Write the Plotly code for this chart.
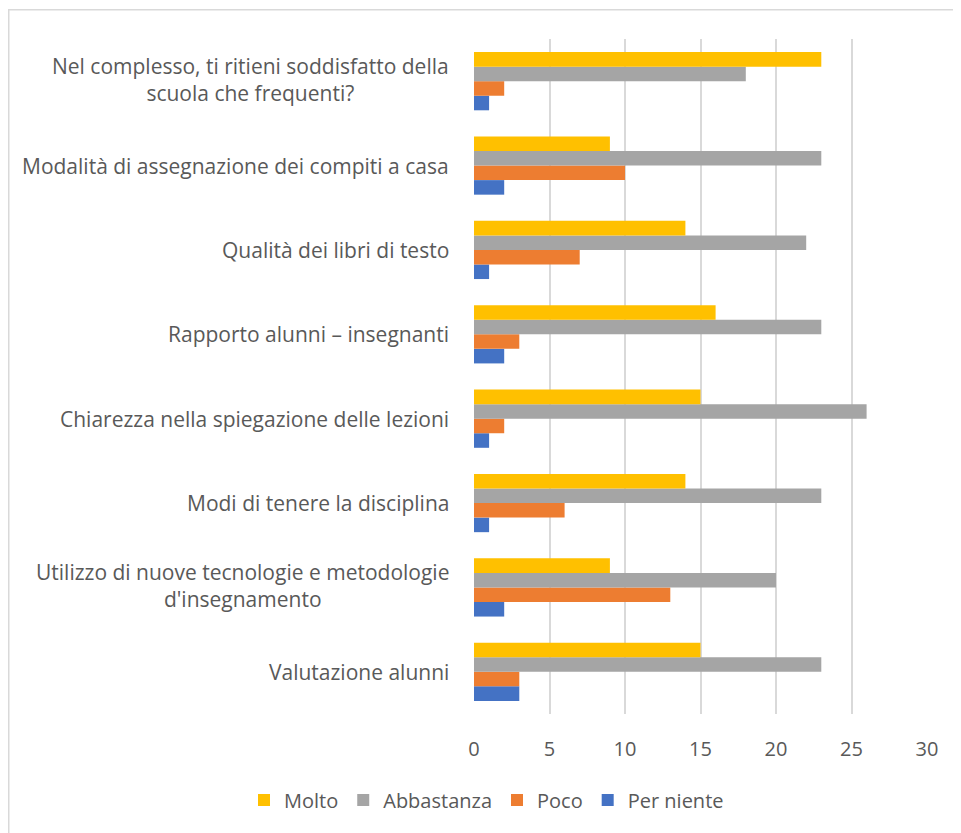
import plotly.graph_objects as go

categories = [
    "Nel complesso, ti ritieni soddisfatto della<br>scuola che frequenti?",
    "Modalità di assegnazione dei compiti a casa",
    "Qualità dei libri di testo",
    "Rapporto alunni – insegnanti",
    "Chiarezza nella spiegazione delle lezioni",
    "Modi di tenere la disciplina",
    "Utilizzo di nuove tecnologie e metodologie<br>d'insegnamento",
    "Valutazione alunni",
]
molto = [23, 9, 14, 16, 15, 14, 9, 15]
abbastanza = [18, 23, 22, 23, 26, 23, 20, 23]
poco = [2, 10, 7, 3, 2, 6, 13, 3]
per_niente = [1, 2, 1, 2, 1, 1, 2, 3]
x_ticks = [0, 5, 10, 15, 20, 25, 30]

series = [
    ("Per niente", per_niente, "#4472C4"),
    ("Poco", poco, "#ED7D31"),
    ("Abbastanza", abbastanza, "#A5A5A5"),
    ("Molto", molto, "#FFC000"),
]

cats_bottom_up = categories[::-1]
FONT = "Open Sans"
TXT = "#595959"
FS = 20

fig = go.Figure()
for name, vals, color in series:
    fig.add_trace(go.Bar(
        y=cats_bottom_up, x=vals[::-1], name=name, orientation="h",
        marker=dict(color=color, line=dict(width=0)),
    ))

# figure is placed 8px from page edges by the body margin
W, H = 961, 833
L, R, T, B = 466, 42, 31, 127
pw, ph = W - L - R, H - T - B

annotations = []
for c in categories:
    annotations.append(dict(
        x=0, xref="paper", y=c, yref="y", text=c, showarrow=False,
        xanchor="right", yanchor="middle", align="center", xshift=-23,
        yshift=2 if "<br>" in c else 0,
        font=dict(family=FONT, size=21, color=TXT),
    ))

def px_x(p):
    return (p - 8 - L) / pw

def px_y(p):
    return (H - B - (p - 8)) / ph

fig.update_layout(
    width=W, height=H,
    margin=dict(l=L, r=R, t=T, b=B),
    paper_bgcolor="white", plot_bgcolor="white",
    barmode="group", bargap=0.31, bargroupgap=0,
    font=dict(family=FONT, size=FS, color=TXT),
    xaxis=dict(range=[0, 30], tickvals=x_ticks, showgrid=True,
               gridcolor="#D9D9D9", gridwidth=1.5, zeroline=False,
               showline=False, ticks="", ticklabelstandoff=21,
               tickfont=dict(family=FONT, size=FS, color=TXT), fixedrange=True),
    yaxis=dict(showticklabels=False, showgrid=False, zeroline=False,
               showline=False, ticks=""),
    legend=dict(orientation="h", x=px_x(244), xanchor="left",
                y=px_y(800), yanchor="middle", traceorder="reversed",
                font=dict(family=FONT, size=FS, color=TXT),
                itemwidth=30, bgcolor="rgba(0,0,0,0)"),
    annotations=annotations,
    shapes=[dict(type="rect", xref="paper", yref="paper",
                 x0=px_x(8.75), x1=px_x(990), y0=px_y(860), y1=px_y(9.75),
                 line=dict(color="#D9D9D9", width=1.5), fillcolor="rgba(0,0,0,0)",
                 layer="below")],
    showlegend=True,
)

fig.write_html("out.html")
